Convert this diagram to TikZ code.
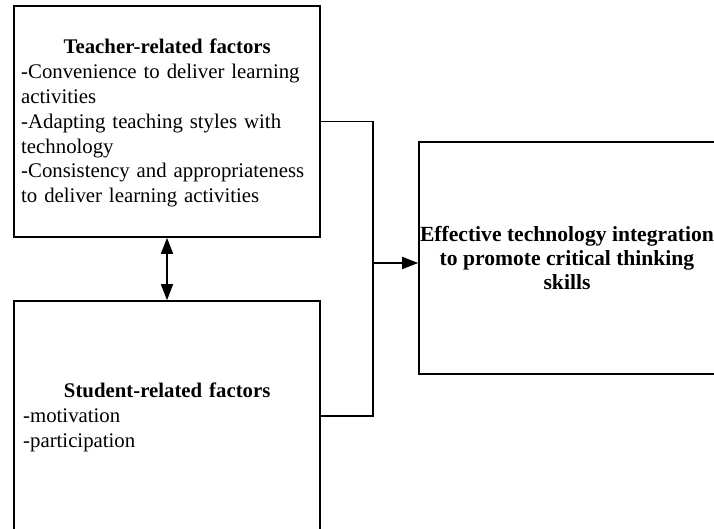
\documentclass[tikz,border=0pt]{standalone}
\usepackage{fontspec}
\setmainfont{Liberation Serif}
\usetikzlibrary{arrows.meta}
\begin{document}
\begin{tikzpicture}[x=1pt,y=-1pt,
  box/.style={draw=black,line width=1.6pt,rectangle,inner sep=0pt},
  link/.style={draw=black,line width=1.5pt},
  tip/.style={-{Triangle[length=16pt,width=12pt]}},
  dtip/.style={{Triangle[length=16pt,width=12pt]}-{Triangle[length=16pt,width=12pt]}},
  txt/.style={inner sep=0pt,font=\fontsize{20.8}{24.8}\selectfont}]
\useasboundingbox (0,0) rectangle (714,528);
\fill[white] (0,0) rectangle (714,528);
\clip (0,0) rectangle (714,528);

% the three boxes (the right and lower ones run past the page edge)
\node[box,minimum width=306pt,minimum height=231pt] (teacher) at (167,121.5) {};
\node[box,minimum width=306pt,minimum height=230pt] (student) at (167,416) {};
\node[box,minimum width=296pt,minimum height=232pt] (effect) at (567,258) {};

% box texts
\node[txt,anchor=north west,text width=292pt,align=left] (ttext) at (21,39)
  {{\centering\bfseries Teacher-related factors\par}
   -Convenience to deliver learning\\
   activities\\
   -Adapting teaching styles with\\
   technology\\
   -Consistency and appropriateness\\
   to deliver learning activities};
\node[txt,anchor=north west,text width=288pt,align=left] (stext) at (23,383)
  {{\centering\bfseries Student-related factors\par}
   -motivation\\
   -participation};
\node[txt,anchor=north,align=center,font=\fontsize{21.6}{24.2}\selectfont\bfseries] (etext) at (567,226)
  {Effective technology integration\\
   to promote critical thinking\\
   skills};

% connectors
\coordinate (top) at (373,121.5);
\coordinate (bot) at (373,416);
\coordinate (join) at (373,263);
\draw[link] (teacher.east) -- (top) -- (bot) -- (student.east);
\draw[link,tip] (join) -- (effect.west |- join);
\draw[link,dtip] (teacher.south) -- (student.north);
\end{tikzpicture}
\end{document}
